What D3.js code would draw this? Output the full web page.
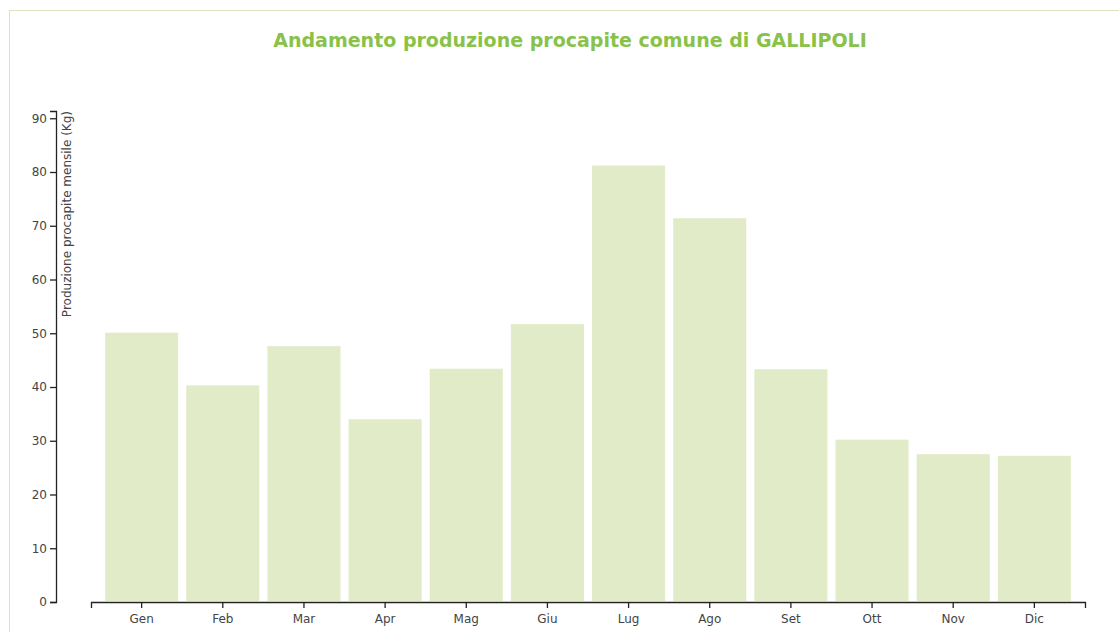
<!DOCTYPE html>
<html>
<head>
<meta charset="utf-8">
<title>Andamento produzione procapite</title>
<script src="https://cdn.jsdelivr.net/npm/d3@7"></script>
<style>
	body { margin: 0; background: #fff; }
	svg text { font-family: "DejaVu Sans", Verdana, sans-serif; }
	.axis path, .axis line { fill: none; stroke: #222; stroke-width: 1.3; }
	.axis text { font-size: 12px; fill: #444; }
	.bar { fill: #e1ebc8; }
	.title { font-size: 19px; font-weight: bold; fill: #89c24a; }
</style>
</head>
<body>
<svg id="viz"></svg>
<script>

	// the data
	var months = ["Gen", "Feb", "Mar", "Apr", "Mag", "Giu", "Lug", "Ago", "Set", "Ott", "Nov", "Dic"];
	var values = [50.1, 40.3, 47.6, 34.0, 43.4, 51.7, 81.2, 71.4, 43.3, 30.2, 27.5, 27.2];
	var yTicks = [0, 10, 20, 30, 40, 50, 60, 70, 80, 90];



	// set up the svg
	var w = 1119;
	var h = 632;
	var margin = {top: 111, right: 34, bottom: 30, left: 56};
	var width = w - margin.left - margin.right;
	var height = h - margin.top - margin.bottom;

	var viz = d3.select("#viz").attr("width", w).attr("height", h);

	// light frame round the chart
	viz.append("rect")
		.attr("x", 9.5)
		.attr("y", 10.5)
		.attr("width", w)
		.attr("height", h)
		.attr("fill", "none")
		.attr("stroke", "#dbe5bf");

	viz.append("text")
		.attr("class", "title")
		.attr("x", 570)
		.attr("y", 47)
		.attr("text-anchor", "middle")
		.text("Andamento produzione procapite comune di GALLIPOLI");

	var g = viz.append("g")
		.attr("transform", "translate(" + margin.left + "," + margin.top + ")");



	// scales
	var x = d3.scaleBand()
		.domain(months)
		.range([35, width])
		.paddingInner(0.1)
		.paddingOuter(0.174);

	var y = d3.scaleLinear()
		.domain([0, d3.max(values) * 1.125])
		.range([height, 0]);



	// draw the bars
	g.selectAll("rect.bar")
		.data(values)
		.enter()
		.append("rect")
		.attr("class", "bar")
		.attr("x", function(d, i) { return x(months[i]); })
		.attr("width", x.bandwidth())
		.attr("y", function(d) { return y(d); })
		.attr("height", function(d) { return height - y(d) - 1; });



	// axes
	g.append("g")
		.attr("class", "axis")
		.attr("transform", "translate(0," + height + ")")
		.call(d3.axisBottom(x).tickPadding(6));

	var yAxis = g.append("g")
		.attr("class", "axis")
		.call(d3.axisLeft(y).tickValues(yTicks));

	yAxis.append("text")
		.attr("transform", "rotate(-90)")
		.attr("y", 6)
		.attr("dy", ".71em")
		.attr("text-anchor", "end")
		.text("Produzione procapite mensile (Kg)");

</script>
</body>
</html>
